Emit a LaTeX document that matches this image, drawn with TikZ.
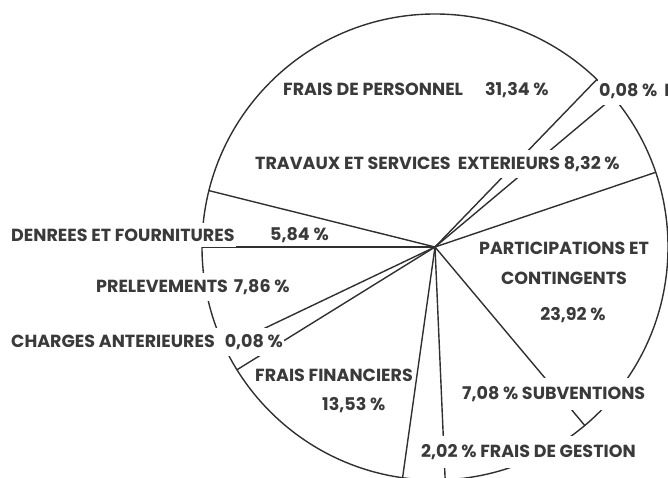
\documentclass[tikz,border=0pt]{standalone}
\usepackage{fontspec}
\setmainfont{Poppins}
\usepackage{xcolor}
\definecolor{pieink}{RGB}{48, 48, 48}
\definecolor{pietext}{RGB}{58, 58, 58}
\usepackage{tikz}
\usetikzlibrary{positioning}

\begin{document}
\begin{tikzpicture}[x=1pt, y=1pt,
    pie/.style={draw=pieink, line width=1.4pt},
    lbl/.style={font=\fontsize{17.5}{20}\selectfont\bfseries, text=pietext, fill=white, inner xsep=1pt, inner ysep=6pt, anchor=west},
    tag/.style={font=\fontsize{17.5}{20}\selectfont\bfseries, text=pietext, inner sep=0pt, anchor=west},
    mid/.style={font=\fontsize{17.5}{20}\selectfont\bfseries, text=pietext, inner sep=0pt}]
    \useasboundingbox (0,0) rectangle (668,478);
    \coordinate (ctr) at (435,231);

    % rim and slice edges
    \draw[pie] (ctr) circle[radius=233];
    \foreach \a in {18.7,40,46,166,180,205.5,211.8,262,272.5,310} {
        \draw[pie] (ctr) -- ++(\a:233);
    }

    % upper half
    \node[tag] (perso) at (283,388) {FRAIS DE PERSONNEL\hspace{22pt}31,34 \%};
    \node[lbl] (impots) at (598,387) {0,08 \%\hspace{7pt}I};
    \node[lbl] (travaux) at (254,314) {TRAVAUX ET SERVICES\hspace{7pt}EXTERIEURS 8,32 \%};

    % left side
    \node[lbl] (denrees) at (10,243) {DENREES ET FOURNITURES};
    \node[tag] (denreesp) at (270,243) {5,84 \%};
    \node[lbl] (prelev) at (95,191) {PRELEVEMENTS\hspace{6pt}7,86 \%};
    \node[lbl] (charges) at (10,136) {CHARGES ANTERIEURES\hspace{10pt}0,08 \%};
    \node[tag] (financ) at (255,103) {FRAIS FINANCIERS};
    \node[tag] (financp) at (322,73) {13,53 \%};

    % right side
    \node[mid] (partic) at (564,230) {PARTICIPATIONS ET};
    \node[mid] (conting) at (564,200) {CONTINGENTS};
    \node[mid] (particp) at (573,163) {23,92 \%};
    \node[lbl, inner ysep=8pt] (subv) at (461,84) {7,08 \% SUBVENTIONS};
    \node[lbl, inner ysep=8pt] (gestion) at (420,26) {2,02 \% FRAIS DE GESTION};
\end{tikzpicture}
\end{document}
